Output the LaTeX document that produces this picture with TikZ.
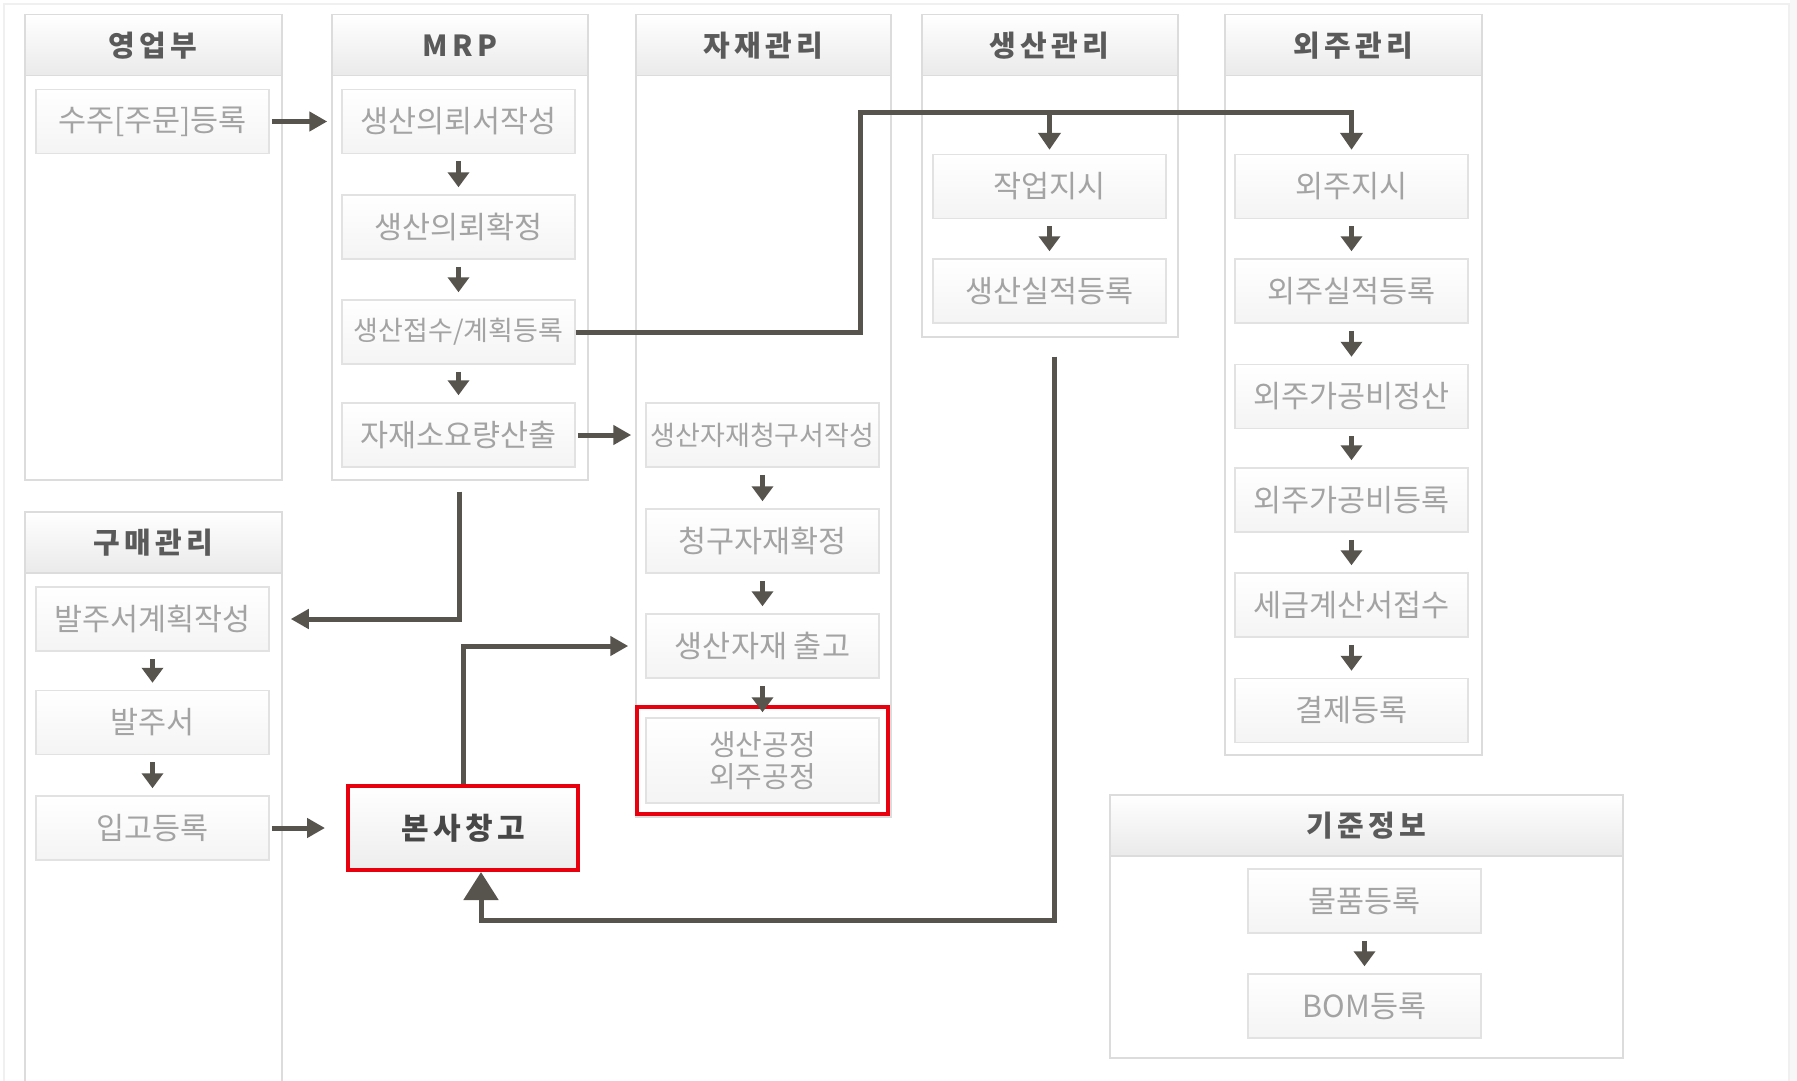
\documentclass[tikz,border=0pt]{standalone}
\usepackage{fontspec}
\setmainfont{Noto Sans CJK KR}
\newfontfamily\hfont[LetterSpace=15]{Noto Sans CJK KR}
\usetikzlibrary{arrows.meta,fit,calc}
\definecolor{panelline}{HTML}{DCDCDC}
\definecolor{boxline}{HTML}{E2E2E2}
\definecolor{boxbot}{HTML}{F4F4F4}
\definecolor{boxtext}{HTML}{A3A3A3}
\definecolor{headtext}{HTML}{5A5A5A}
\definecolor{headbot}{HTML}{EAEAEA}
\definecolor{arrowcol}{HTML}{57534D}
\definecolor{redline}{HTML}{E8000F}
\begin{document}
\begin{tikzpicture}[x=1pt,y=-1pt,
  panel/.style={draw=panelline, line width=1.5pt, fill=white, anchor=north west, inner sep=0pt},
  header/.style={draw=panelline, line width=1.5pt, top color=white, bottom color=headbot, anchor=north west, inner sep=0pt, minimum height=61pt, text=headtext, font=\fontsize{29}{33}\selectfont\hfont\bfseries},
  box/.style={draw=boxline, line width=1.5pt, top color=white, bottom color=boxbot, minimum width=233pt, minimum height=64pt, inner sep=0pt, text=boxtext, font=\fontsize{30.5}{36}\selectfont},
  narrow/.style={font=\fontsize{27}{32}\selectfont},
  smallarr/.style={draw=arrowcol, line width=4.5pt, -{Triangle[width=21pt,length=15pt]}, shorten <=7pt, shorten >=7pt},
  rightarr/.style={draw=arrowcol, line width=5pt, -{Triangle[width=19pt,length=18pt]}},
  conn/.style={draw=arrowcol, line width=5pt},
]
\useasboundingbox (0,0) rectangle (1797,1081);
\clip (0,0) rectangle (1797,1081);
\fill[white] (0,0) rectangle (1797,1081);
\draw[gray!12, line width=2pt] (4,4) rectangle (1789,1100);
\fill[gray!6] (1790,0) rectangle (1797,1081);

% panels
\node[panel, minimum width=257pt, minimum height=465pt] (p1) at (24,14) {};
\node[header, minimum width=257pt] (h1) at (24,14) {영업부};
\node[panel, minimum width=256pt, minimum height=465pt] (p2) at (331,14) {};
\node[header, minimum width=256pt] (h2) at (331,14) {MRP};
\node[panel, minimum width=255pt, minimum height=802pt] (p3) at (635,14) {};
\node[header, minimum width=255pt] (h3) at (635,14) {자재관리};
\node[panel, minimum width=256pt, minimum height=322pt] (p4) at (921,14) {};
\node[header, minimum width=256pt] (h4) at (921,14) {생산관리};
\node[panel, minimum width=257pt, minimum height=740pt] (p5) at (1224,14) {};
\node[header, minimum width=257pt] (h5) at (1224,14) {외주관리};
\node[panel, minimum width=257pt, minimum height=600pt] (p6) at (24,511) {};
\node[header, minimum width=257pt] (h6) at (24,511) {구매관리};
\node[panel, minimum width=513pt, minimum height=263pt] (p7) at (1109,794) {};
\node[header, minimum width=513pt] (h7) at (1109,794) {기준정보};

% boxes
\node[box] (s1) at (152.5,121.5) {수주[주문]등록};
\node[box] (m1) at (458.5,121.5) {생산의뢰서작성};
\node[box] (m2) at (458.5,227) {생산의뢰확정};
\node[box, narrow] (m3) at (458.5,332) {생산접수/계획등록};
\node[box] (m4) at (458.5,435) {자재소요량산출};
\node[box, narrow] (mat1) at (762.5,435) {생산자재청구서작성};
\node[box] (mat2) at (762.5,541) {청구자재확정};
\node[box] (mat3) at (762.5,646) {생산자재 출고};
\node[box, minimum height=85pt, align=center, font=\fontsize{29}{32}\selectfont] (mat4) at (762.5,760.5) {생산공정\\외주공정};
\node[draw=redline, line width=4pt, fit=(mat4), inner xsep=8pt, inner ysep=10pt] (mat4frame) {};
\node[box] (prod1) at (1049.5,186.5) {작업지시};
\node[box] (prod2) at (1049.5,291) {생산실적등록};
\node[box] (out1) at (1351.5,186.5) {외주지시};
\node[box] (out2) at (1351.5,291) {외주실적등록};
\node[box] (out3) at (1351.5,396.5) {외주가공비정산};
\node[box] (out4) at (1351.5,500) {외주가공비등록};
\node[box] (out5) at (1351.5,605) {세금계산서접수};
\node[box] (out6) at (1351.5,710.5) {결제등록};
\node[box] (buy1) at (152.5,619) {발주서계획작성};
\node[box] (buy2) at (152.5,722.5) {발주서};
\node[box] (buy3) at (152.5,828) {입고등록};
\node[box, draw=redline, line width=4pt, minimum width=230pt, minimum height=84pt, bottom color=gray!14, text=black!72, font=\fontsize{30}{34}\selectfont\hfont\bfseries] (bonsa) at (463,828) {본사창고};
\node[box] (base1) at (1364.5,901) {물품등록};
\node[box] (base2) at (1364.5,1006) {BOM등록};

% small arrows
\foreach \a/\b in {m1/m2, m2/m3, m3/m4, mat1/mat2, mat2/mat3, prod1/prod2, out1/out2, out2/out3, out3/out4, out4/out5, out5/out6, buy1/buy2, buy2/buy3, base1/base2}
  \draw[smallarr] (\a.south) -- (\b.north);
\draw[smallarr, shorten >=5pt] (mat3.south) -- (mat4.north);

% horizontal arrows
\draw[rightarr, shorten <=2pt, shorten >=14pt] (s1.east) -- (m1.west);
\draw[rightarr, shorten <=2pt, shorten >=14pt] (m4.east) -- (mat1.west);
\draw[rightarr, shorten <=2pt, shorten >=21pt] (buy3.east) -- (bonsa.west);

% long connectors
\coordinate (jn) at (860,112);
\draw[conn, -{Triangle[width=22pt,length=17pt]}, shorten >=4pt] (m3.east) -| (jn) -| (out1.north);
\draw[conn, -{Triangle[width=22pt,length=17pt]}, shorten >=4pt] (jn -| prod1.north) -- (prod1.north);
\draw[conn, -{Triangle[width=19pt,length=18pt]}, shorten <=11pt, shorten >=21pt] (p2.south) |- (buy1.east);
\draw[conn, -{Triangle[width=19pt,length=18pt]}, shorten >=17pt] (bonsa.north) |- (mat3.west);
\coordinate (cb) at (0,920);
\draw[conn, -{Triangle[width=34pt,length=28pt]}, shorten <=19pt] ([xshift=5pt]p4.south) -- ([xshift=5pt]p4.south |- cb) -| ([xshift=18pt]bonsa.south);
\end{tikzpicture}
\end{document}
